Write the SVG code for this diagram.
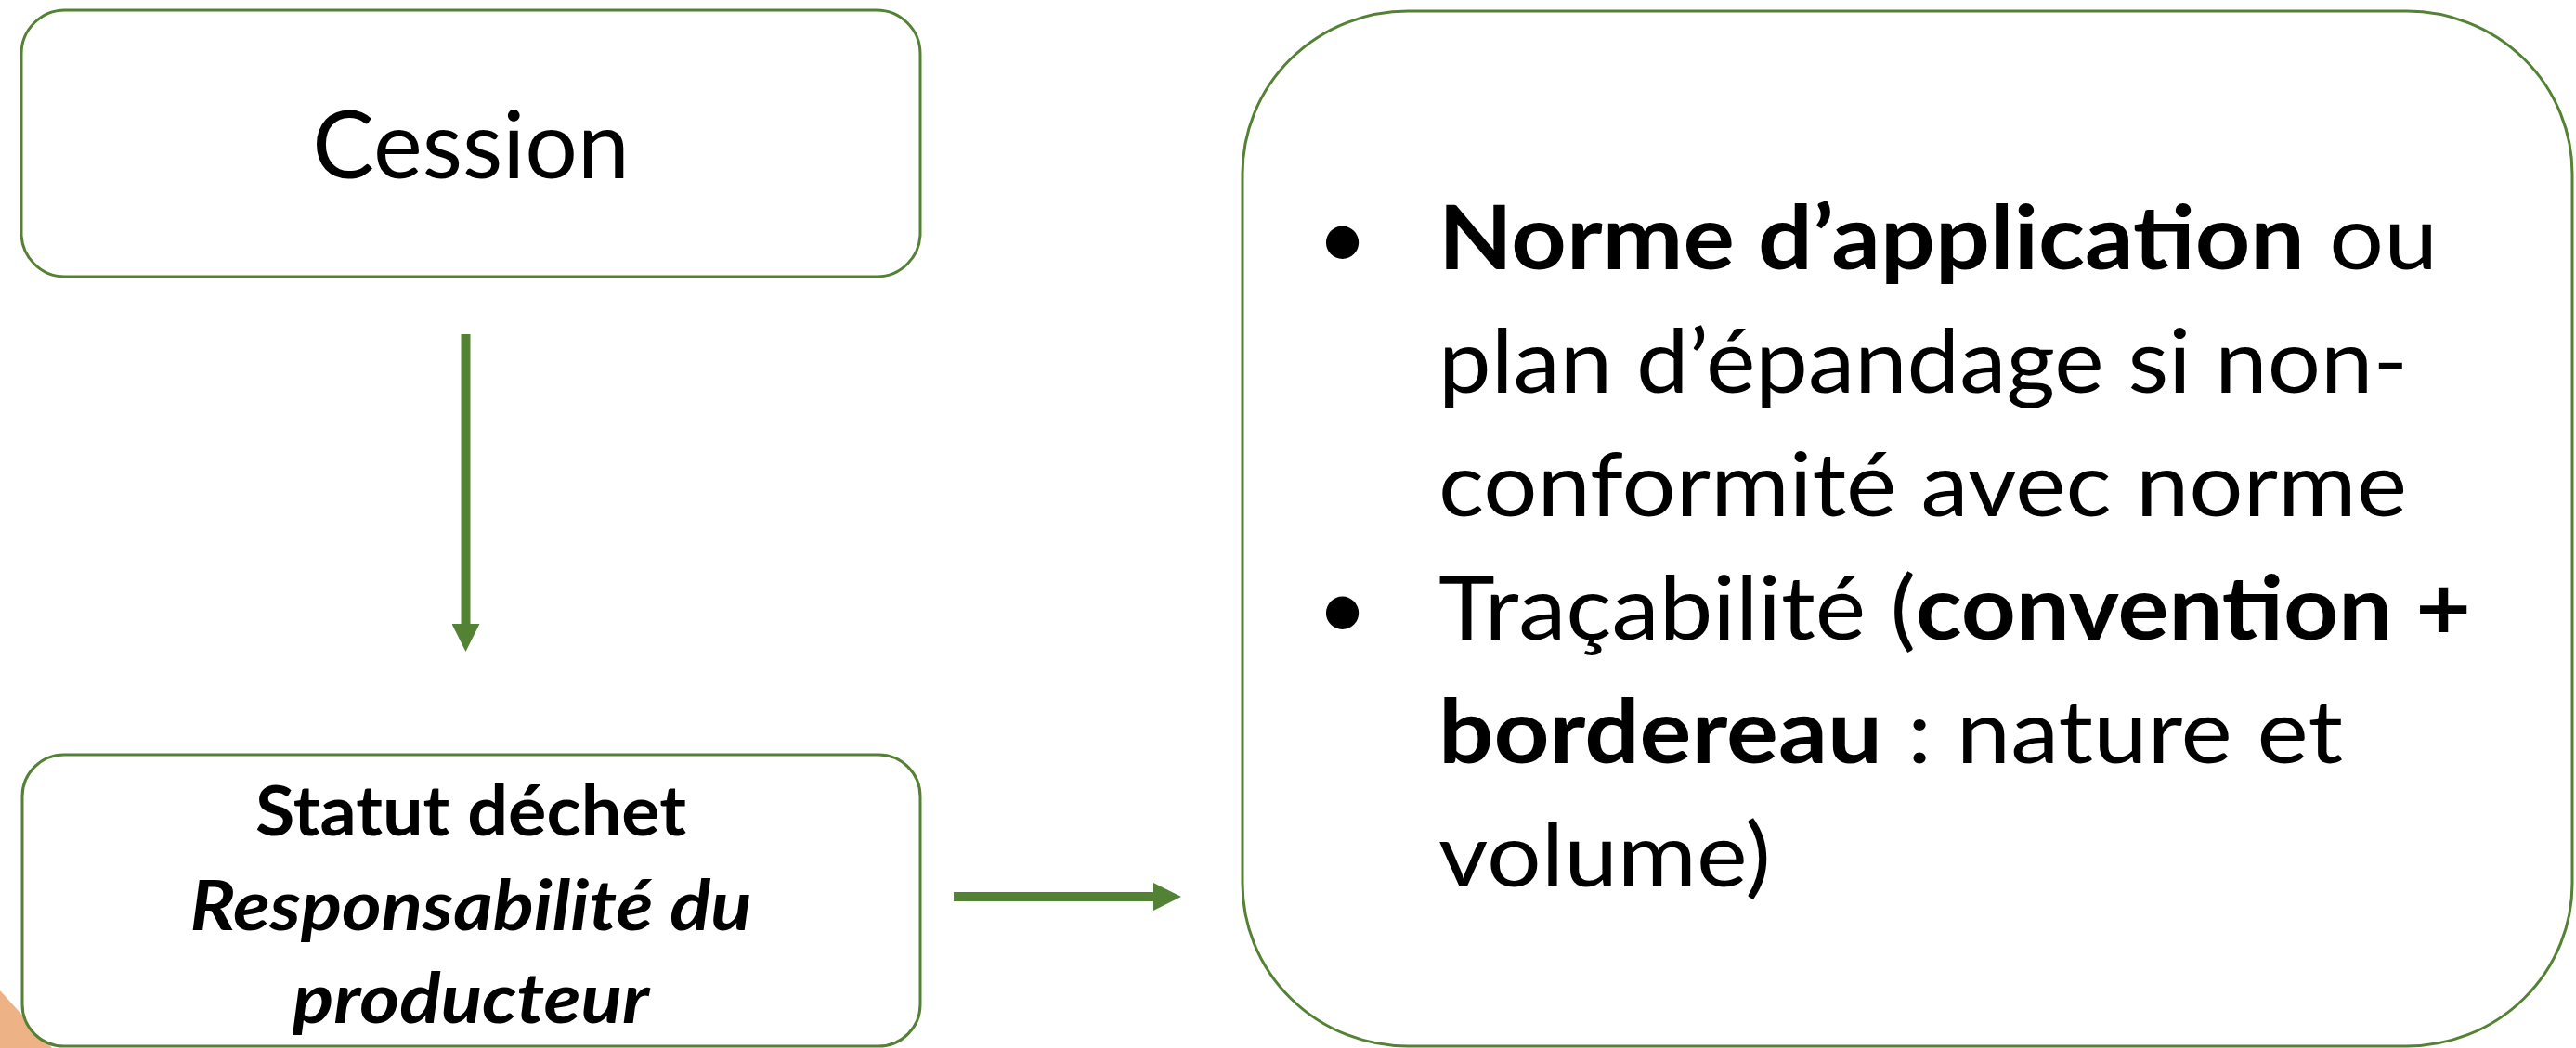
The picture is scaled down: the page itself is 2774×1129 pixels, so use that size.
<svg xmlns="http://www.w3.org/2000/svg" width="2774" height="1129" viewBox="0 0 2774 1129">
<defs>
<style>
.box{fill:#ffffff;stroke:#548235;stroke-width:3}
.t{font-family:Lato,"Open Sans","Liberation Sans",sans-serif;fill:#000000}
.b{font-weight:bold}
.bi{font-weight:bold;font-style:italic}
.conn{stroke:#548235;stroke-width:10;fill:none}
</style>
<marker id="ah" viewBox="0 0 30 30" markerWidth="30" markerHeight="30" refX="0" refY="15" markerUnits="userSpaceOnUse" orient="auto">
<path d="M0,0 L30,15 L0,30 Z" fill="#548235"/>
</marker>
</defs>
<rect width="2774" height="1129" fill="#ffffff"/>
<polygon points="0,1067 56,1129 0,1129" fill="#EDB386"/>
<g id="cession">
<rect class="box" x="23" y="11" width="968" height="287" rx="47" ry="47"/>
<text class="t" x="507" y="192" font-size="100" text-anchor="middle">Cession</text>
</g>
<g id="statut">
<rect class="box" x="24" y="813" width="967" height="314" rx="45" ry="45"/>
<text class="t b" x="507" y="900" font-size="74" text-anchor="middle" textLength="464" lengthAdjust="spacingAndGlyphs">Statut déchet</text>
<text class="t bi" x="507" y="1002" font-size="74" text-anchor="middle" textLength="605" lengthAdjust="spacingAndGlyphs">Responsabilité du</text>
<text class="t bi" x="507" y="1102" font-size="74" text-anchor="middle" textLength="384" lengthAdjust="spacingAndGlyphs">producteur</text>
</g>
<g id="conditions">
<rect class="box" x="1338" y="12" width="1432" height="1115" rx="178" ry="175"/>
<g class="t" font-size="95">
<text x="1418" y="290">•</text>
<text x="1549" y="290" textLength="1076" lengthAdjust="spacingAndGlyphs"><tspan class="b">Norme d’application</tspan> ou</text>
<text x="1549" y="423" textLength="1044" lengthAdjust="spacingAndGlyphs">plan d’épandage si non-</text>
<text x="1549" y="556" textLength="1043" lengthAdjust="spacingAndGlyphs">conformité avec norme</text>
<text x="1418" y="689">•</text>
<text x="1549" y="689" textLength="1112" lengthAdjust="spacingAndGlyphs">Traçabilité (<tspan class="b">convention +</tspan></text>
<text x="1549" y="822" textLength="974" lengthAdjust="spacingAndGlyphs"><tspan class="b">bordereau</tspan> : nature et</text>
<text x="1549" y="955" textLength="358" lengthAdjust="spacingAndGlyphs">volume)</text>
</g>
</g>
<g id="connectors">
<line class="conn" x1="501.5" y1="360" x2="501.5" y2="672" marker-end="url(#ah)"/>
<line class="conn" x1="1027" y1="966" x2="1242" y2="966" marker-end="url(#ah)"/>
</g>
</svg>
